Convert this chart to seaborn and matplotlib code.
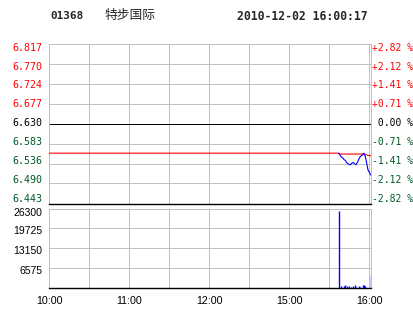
import numpy as np
import pandas as pd
import matplotlib
matplotlib.use("Agg")
import matplotlib.pyplot as plt
import seaborn as sns
from matplotlib.transforms import blended_transform_factory, ScaledTranslation

# ---------------- data ----------------
stock_code = "01368"
stock_name = "特步国际"
timestamp = "2010-12-02 16:00:17"

prev_close = 6.630
price_levels = [6.443, 6.490, 6.536, 6.583, 6.630, 6.677, 6.724, 6.770, 6.817]
price_labels = ["6.443", "6.490", "6.536", "6.583", "6.630", "6.677", "6.724", "6.770", "6.817"]
pct_labels = ["-2.82 %", "-2.12 %", "-1.41 %", "-0.71 %", " 0.00 %", "+0.71 %", "+1.41 %", "+2.12 %", "+2.82 %"]

vol_levels = [6575, 13150, 19725, 26300]
vol_labels = ["6575", "13150", "19725", "26300"]

time_ticks = [0, 60, 120, 180, 240]
time_labels = ["10:00", "11:00", "12:00", "15:00", "16:00"]

price_minutes = [217, 218, 219, 220, 221, 222, 223, 225, 226, 227, 228, 229,
                 230, 231, 232, 233, 234, 235, 236, 237, 238, 239, 241]
price_values = [6.561, 6.557, 6.552, 6.550, 6.546, 6.544, 6.539, 6.534, 6.534,
                6.538, 6.539, 6.536, 6.534, 6.539, 6.546, 6.552, 6.555, 6.557,
                6.561, 6.553, 6.538, 6.522, 6.510]

avg_minutes = [0, 217, 218, 236, 237, 238, 239, 241]
avg_values = [6.561, 6.561, 6.559, 6.559, 6.558, 6.557, 6.556, 6.555]

vol_minutes = [217, 219, 221, 222, 223, 225, 226, 228, 229, 230, 232, 233, 235, 236, 237, 241]
vol_values = [25400, 660, 660, 1000, 660, 660, 440, 660, 1000, 440, 660, 440, 1000, 1000, 700, 4200]

# ---------------- style ----------------
sns.set_style("white")
plt.rcParams["font.family"] = ["DejaVu Sans Mono", "Noto Sans CJK SC"]

RED = "#ff0000"
GREEN = "#005a28"
GRID = "#c0c0c0"
px = 0.72  # 1 pixel in points at 100 dpi

W, H = 414, 314
fig = plt.figure(figsize=(W / 100, H / 100), dpi=100)
fig.patch.set_facecolor("white")

def frac_axes(left, top, right, bottom):
    return fig.add_axes([left / W, (H - bottom) / H, (right - left) / W, (bottom - top) / H])

X0, X1 = 49.3, 371.5
XMAX = 240 * (X1 - X0) / 320.0
ax = frac_axes(X0, 44, X1, 203.5)
axv = frac_axes(X0, 208.5, X1, 288)

for a in (ax, axv):
    a.set_xlim(0, XMAX)
    a.set_xticks(range(0, 241, 30))
    a.tick_params(length=0, labelleft=False, labelbottom=False)
    a.grid(True, color=GRID, lw=px)
    a.set_axisbelow(True)
    for s in ("left", "top", "right"):
        a.spines[s].set_color(GRID)
        a.spines[s].set_linewidth(px)
    a.spines["bottom"].set_color("black")
    a.spines["bottom"].set_linewidth(1.0)

# ---------------- price panel ----------------
ax.set_ylim(price_levels[0], price_levels[-1])
ax.set_yticks(price_levels)
ax.axhline(prev_close, color="black", lw=px, zorder=2)

df_avg = pd.DataFrame({"t": avg_minutes, "p": avg_values})
df_price = pd.DataFrame({"t": price_minutes, "p": price_values})
sns.lineplot(data=df_avg, x="t", y="p", color=RED, lw=0.8, ax=ax, zorder=3)
sns.lineplot(data=df_price, x="t", y="p", color="#0000ff", lw=0.8, ax=ax, zorder=4)
ax.set_xlabel("")
ax.set_ylabel("")

trL = blended_transform_factory(ax.transAxes, ax.transData)
n = len(price_levels)
for i, (lvl, lab, pct) in enumerate(zip(price_levels, price_labels, pct_labels)):
    if lvl > prev_close + 1e-9:
        c = RED
    elif lvl < prev_close - 1e-9:
        c = GREEN
    else:
        c = "black"
    k = n - 1 - i  # index from top
    dy = -(2.7 - 0.75 * k) / 72
    off_l = ScaledTranslation(-5 / 72, dy, fig.dpi_scale_trans)
    off_r = ScaledTranslation(0.3 / 72, dy, fig.dpi_scale_trans)
    ax.text(0, lvl, lab, transform=trL + off_l, ha="right", va="center",
            fontsize=7.2, color=c, family="DejaVu Sans Mono")
    ax.text(1, lvl, pct, transform=trL + off_r, ha="left", va="center",
            fontsize=7.0, color=c, family="DejaVu Sans Mono")

# ---------------- volume panel ----------------
axv.set_ylim(0, 26300)
axv.set_yticks(vol_levels)
axv.vlines(vol_minutes, 0, vol_values, color="#0000ff", lw=1.0, zorder=3)

trV = blended_transform_factory(axv.transAxes, axv.transData)
for lvl, lab in zip(vol_levels, vol_labels):
    dy = -3 / 72 if lvl == vol_levels[-1] else -2 / 72
    off = ScaledTranslation(-5 / 72, dy, fig.dpi_scale_trans)
    axv.text(0, lvl, lab, transform=trV + off, ha="right", va="center",
             fontsize=7.5, color="black", family="Liberation Sans")

trX = blended_transform_factory(axv.transData, axv.transAxes)
for t, lab in zip(time_ticks, time_labels):
    off = ScaledTranslation(0, -9.5 / 72, fig.dpi_scale_trans)
    axv.text(t, 0, lab, transform=trX + off, ha="center", va="center",
             fontsize=7.7, color="black", family="Liberation Sans")

# ---------------- header ----------------
fig.text(50 / W, 1 - 16 / H, stock_code, ha="left", va="center",
         fontsize=7.9, fontweight="bold", family="DejaVu Sans Mono")
fig.text(105 / W, 1 - 16 / H, stock_name, ha="left", va="center",
         fontsize=9.2, family="Noto Sans CJK SC")
fig.text(237.5 / W, 1 - 16 / H, timestamp, ha="left", va="center",
         fontsize=8.3, fontweight="bold", family="DejaVu Sans Mono")

fig.savefig("out.png", dpi=100, facecolor="white")
